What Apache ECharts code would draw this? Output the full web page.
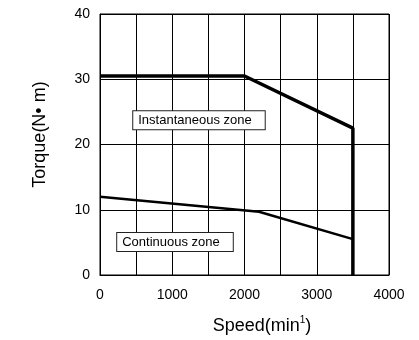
<!DOCTYPE html>
<html>
<head>
<meta charset="utf-8">
<script src="https://cdn.jsdelivr.net/npm/echarts@6/dist/echarts.min.js"></script>
<style>
  html, body { margin: 0; padding: 0; background: #fff; }
  #chart { width: 419px; height: 340px; }
</style>
</head>
<body>
<div id="chart"></div>
<script>
// 数据 (speed min^-1, torque N·m)
var instantSpeed = [0, 2000, 3500, 3500];
var instantTorque = [30.5, 30.5, 22.5, 0];
var contSpeed = [0, 2200, 3500];
var contTorque = [12, 9.7, 5.5];
var zoneNames = ['Instantaneous zone', 'Continuous zone'];
var zoneAt = [[1370, 23.7], [1038, 5.06]];

function pairs(xs, ys) {
	var out = [];
	for (var i = 0; i < xs.length; i++) {
		out.push([xs[i], ys[i]]);
	}
	return out;
}

var font = 'Liberation Sans, Arial, sans-serif';
var zoneLabel = {
	show: true,
	position: 'inside',
	color: '#000',
	fontSize: 13,
	fontFamily: font,
	backgroundColor: '#fff',
	borderColor: '#222',
	borderWidth: 1,
	padding: [3, 13, 2, 5]
};

var myChart = echarts.init(document.getElementById('chart'));
myChart.setOption({
	animation: false,
	grid: {
		show: true,
		left: 100,
		right: 30,
		top: 14,
		bottom: 65,
		borderColor: '#000',
		borderWidth: 1
	},
	xAxis: {
		type: 'value',
		min: 0,
		max: 4000,
		interval: 500,
		name: '{a|Speed(min}{s|1}{a|)}',
		nameLocation: 'middle',
		nameGap: 40,
		nameTextStyle: {
			padding: [0, 0, 0, 35],
			rich: {
				a: { fontSize: 18, fontFamily: font, color: '#000' },
				s: { fontSize: 10, fontFamily: font, color: '#000', verticalAlign: 'bottom', padding: [0, 0, 12, 0] }
			}
		},
		axisLine: { lineStyle: { color: '#000', width: 1 } },
		axisTick: { show: false },
		axisLabel: {
			color: '#000',
			fontSize: 14,
			fontFamily: font,
			margin: 13,
			formatter: function(v) { return v % 1000 === 0 ? String(v) : ''; }
		},
		splitLine: { show: true, lineStyle: { color: '#000', width: 1 } }
	},
	yAxis: {
		type: 'value',
		min: 0,
		max: 40,
		interval: 10,
		name: 'Torque(N\u2022 m)',
		nameLocation: 'middle',
		nameGap: 51,
		nameTextStyle: { color: '#000', fontSize: 18, fontFamily: font, padding: [0, 0, 0, 20] },
		axisLine: { show: true, lineStyle: { color: '#000', width: 1 } },
		axisTick: { show: false },
		axisLabel: { color: '#000', fontSize: 14, fontFamily: font, margin: 10 },
		splitLine: { show: true, lineStyle: { color: '#000', width: 1 } }
	},
	series: [{
		name: 'instantaneous',
		type: 'line',
		data: pairs(instantSpeed, instantTorque),
		symbol: 'none',
		lineStyle: { color: '#000', width: 3.5 },
		markPoint: {
			symbol: 'rect',
			symbolSize: 0,
			label: zoneLabel,
			data: [{ coord: zoneAt[0], value: zoneNames[0] }]
		}
	}, {
		name: 'continuous',
		type: 'line',
		data: pairs(contSpeed, contTorque),
		symbol: 'none',
		lineStyle: { color: '#000', width: 2.5 },
		markPoint: {
			symbol: 'rect',
			symbolSize: 0,
			label: zoneLabel,
			data: [{ coord: zoneAt[1], value: zoneNames[1] }]
		}
	}]
});
</script>
</body>
</html>
